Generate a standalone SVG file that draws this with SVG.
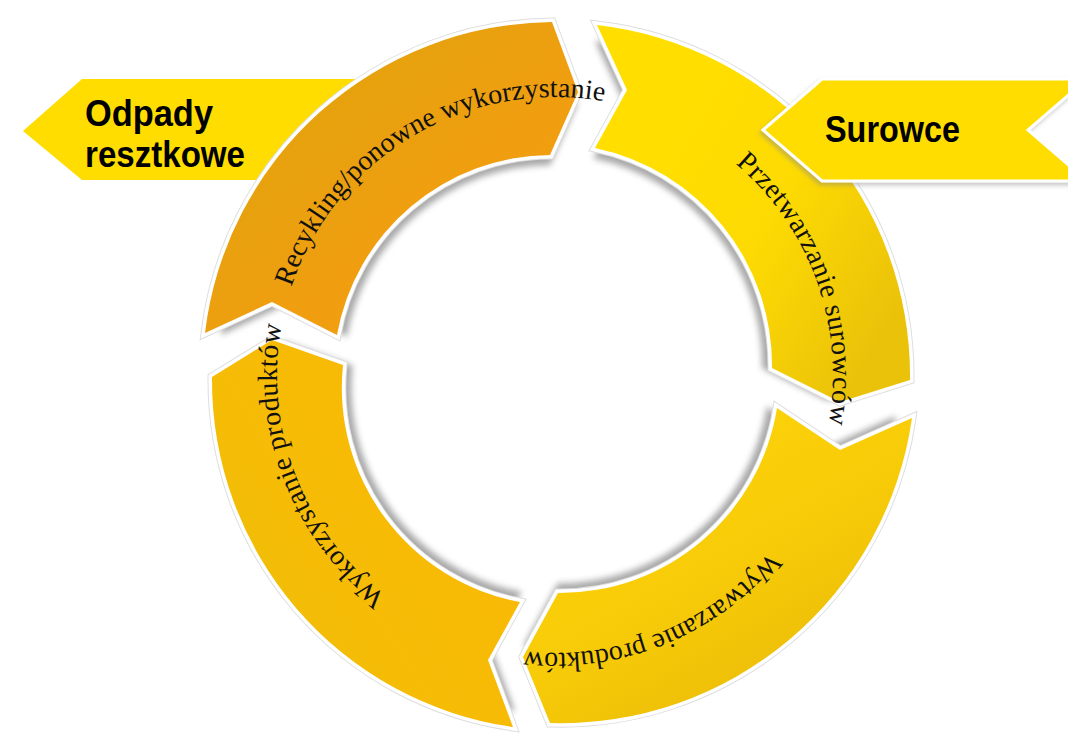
<svg xmlns="http://www.w3.org/2000/svg" width="1068" height="735" viewBox="0 0 1068 735">
<defs>
<style>
.seg{stroke:#fff;stroke-width:7;stroke-linejoin:miter;paint-order:stroke}
.rim{fill:none;stroke:#dedede;stroke-width:9;stroke-linejoin:miter}
.shd{fill:#6e6e6e;opacity:.6}
.lbl{font-family:"Liberation Serif","Times New Roman",serif;font-size:28px;letter-spacing:.4px;fill:#111}
.ban{fill:#FFDD00}
.btxt{font-family:"Liberation Sans",Arial,sans-serif;font-weight:bold;font-size:36px;fill:#000}
</style>
<filter id="blur" x="-10%" y="-10%" width="120%" height="120%"><feGaussianBlur stdDeviation="3.5"/></filter>
<filter id="bshadow" x="-10%" y="-20%" width="120%" height="140%"><feDropShadow dx="-2" dy="3" stdDeviation="2" flood-color="#888" flood-opacity=".45"/></filter>
<linearGradient id="gR" x1="0" y1="0" x2="1" y2="1"><stop offset="0" stop-color="#DCA60B"/><stop offset="0.6" stop-color="#F09E10"/><stop offset="1" stop-color="#F59C12"/></linearGradient>
<linearGradient id="gP" x1="0.3" y1="0.2" x2="1" y2="0.7"><stop offset="0" stop-color="#FFDE00"/><stop offset="0.45" stop-color="#FDDA02"/><stop offset="1" stop-color="#EBC20A"/></linearGradient>
<linearGradient id="gW" x1="0.2" y1="0" x2="0.9" y2="1"><stop offset="0" stop-color="#FED60B"/><stop offset="0.5" stop-color="#F7CB08"/><stop offset="1" stop-color="#E5B508"/></linearGradient>
<linearGradient id="gK" x1="1" y1="0.2" x2="0" y2="1"><stop offset="0" stop-color="#FBB904"/><stop offset="0.6" stop-color="#F5BC06"/><stop offset="1" stop-color="#E8C20B"/></linearGradient>
<path id="tR" d="M291.4,286.8 A278,278 0 0 1 687.7,130.7"/>
<path id="tP" d="M735.5,163.6 A278,278 0 0 1 731.8,589.5"/>
<path id="tW" d="M769.5,551.8 A278,278 0 0 1 343.6,555.5"/>
<path id="tK" d="M385.8,595.6 A278,278 0 0 1 367.2,170.0"/>
</defs>

<g id="odpady-resztkowe">
<polygon class="ban" points="23,131 82,79 385,79 385,180 82,180"/>
<text class="btxt" x="85" y="126" textLength="128" lengthAdjust="spacingAndGlyphs">Odpady</text>
<text class="btxt" x="85" y="167" textLength="160" lengthAdjust="spacingAndGlyphs">resztkowe</text>
</g>

<g id="recykling">
<path class="shd" filter="url(#blur)" transform="translate(555 375) scale(0.955) translate(-555 -375)" d="M205,333 A353,353 0 0 1 552,22 L578,92 L550,155 A218,218 0 0 0 337,335 L272,302 Z"/>
<path class="rim" d="M205,333 A353,353 0 0 1 552,22 L578,92 L550,155 A218,218 0 0 0 337,335 L272,302 Z"/>
<path class="seg" fill="url(#gR)" d="M205,333 A353,353 0 0 1 552,22 L578,92 L550,155 A218,218 0 0 0 337,335 L272,302 Z"/>
<text class="lbl" style="letter-spacing:0"><textPath href="#tR">Recykling/ponowne wykorzystanie</textPath></text>
</g>

<g id="przetwarzanie">
<path class="shd" filter="url(#blur)" transform="translate(555 375) scale(0.955) translate(-555 -375)" d="M597,25 A353,353 0 0 1 910,380 L840,402 L772,368 A222,222 0 0 0 595,148 L627,90 Z"/>
<path class="rim" d="M597,25 A353,353 0 0 1 910,380 L840,402 L772,368 A222,222 0 0 0 595,148 L627,90 Z"/>
<path class="seg" fill="url(#gP)" d="M597,25 A353,353 0 0 1 910,380 L840,402 L772,368 A222,222 0 0 0 595,148 L627,90 Z"/>
<text class="lbl"><textPath href="#tP">Przetwarzanie surowców</textPath></text>
</g>

<g id="wytwarzanie">
<path class="shd" filter="url(#blur)" transform="translate(555 375) scale(0.955) translate(-555 -375)" d="M912,418 A355,355 0 0 1 550,723 L523,657 L558,593 A220,220 0 0 0 777,408 L840,450 Z"/>
<path class="rim" d="M912,418 A355,355 0 0 1 550,723 L523,657 L558,593 A220,220 0 0 0 777,408 L840,450 Z"/>
<path class="seg" fill="url(#gW)" d="M912,418 A355,355 0 0 1 550,723 L523,657 L558,593 A220,220 0 0 0 777,408 L840,450 Z"/>
<text class="lbl" style="letter-spacing:0"><textPath href="#tW">Wytwarzanie produktów</textPath></text>
</g>

<g id="wykorzystanie">
<path class="shd" filter="url(#blur)" transform="translate(555 375) scale(0.955) translate(-555 -375)" d="M513,727 A350,350 0 0 1 212,377 L272,340 L343,365 A218,218 0 0 0 520,602 L488,660 Z"/>
<path class="rim" d="M513,727 A350,350 0 0 1 212,377 L272,340 L343,365 A218,218 0 0 0 520,602 L488,660 Z"/>
<path class="seg" fill="url(#gK)" d="M513,727 A350,350 0 0 1 212,377 L272,340 L343,365 A218,218 0 0 0 520,602 L488,660 Z"/>
<text class="lbl"><textPath href="#tK">Wykorzystanie produktów</textPath></text>
</g>

<g id="connectors"></g>

<g id="surowce">
<polygon class="ban" filter="url(#bshadow)" stroke="#fff" stroke-width="3" points="763,130 822,79 1087,79 1028,130 1087,181 822,181"/>
<text class="btxt" x="825" y="142" textLength="135" lengthAdjust="spacingAndGlyphs">Surowce</text>
</g>
</svg>
